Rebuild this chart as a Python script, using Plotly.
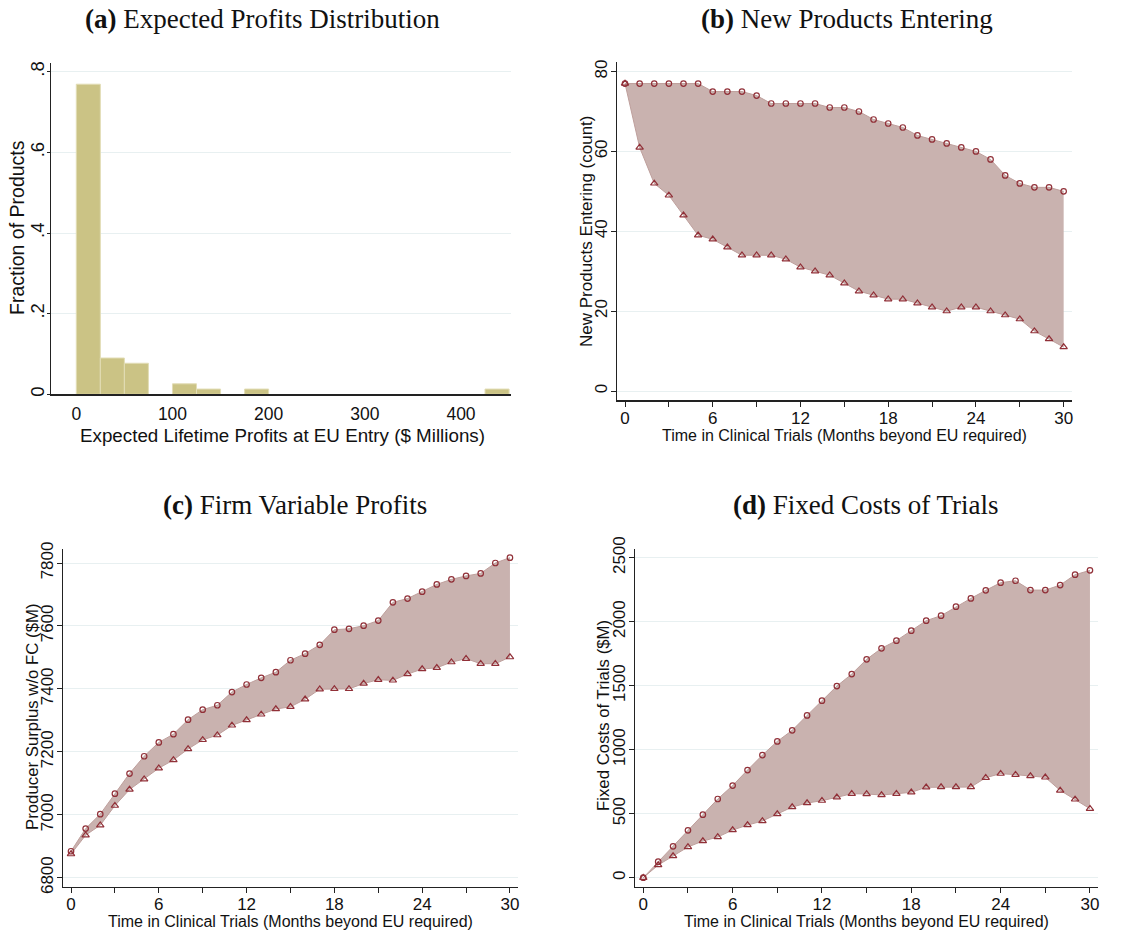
import plotly.graph_objects as go

W, H = 1140, 935

# ---------------- data ----------------
# (a) histogram of expected lifetime profits ($M), bins of width 25
hist_bin_left = [0, 25, 50, 100, 125, 175, 425]
hist_fraction = [0.769, 0.090, 0.077, 0.026, 0.013, 0.013, 0.013]
hist_bin_width = 25

months = list(range(31))

# (b) new products entering
entry_upper = [77, 77, 77, 77, 77, 77, 75, 75, 75, 74, 72, 72, 72, 72, 71, 71,
               70, 68, 67, 66, 64, 63, 62, 61, 60, 58, 54, 52, 51, 51, 50]
entry_lower = [77, 61, 52, 49, 44, 39, 38, 36, 34, 34, 34, 33, 31, 30, 29, 27,
               25, 24, 23, 23, 22, 21, 20, 21, 21, 20, 19, 18, 15, 13, 11]

# (c) producer surplus w/o fixed costs ($M)
ps_upper = [6884, 6956, 7002, 7067, 7131, 7186, 7230, 7256, 7302, 7334, 7348,
            7390, 7414, 7435, 7453, 7491, 7512, 7540, 7588, 7591, 7601, 7617,
            7675, 7687, 7709, 7732, 7748, 7759, 7767, 7800, 7817]
ps_lower = [6875, 6935, 6967, 7029, 7080, 7113, 7148, 7174, 7209, 7238, 7253,
            7284, 7301, 7319, 7336, 7343, 7367, 7399, 7400, 7400, 7417, 7429,
            7427, 7447, 7463, 7467, 7485, 7496, 7480, 7480, 7501]

# (d) fixed costs of trials ($M)
fc_upper = [0, 125, 245, 370, 492, 615, 720, 841, 958, 1065, 1151, 1268, 1383,
            1497, 1591, 1706, 1792, 1852, 1930, 2008, 2047, 2117, 2182, 2245,
            2305, 2320, 2247, 2247, 2286, 2367, 2401]
fc_lower = [0, 99, 169, 240, 286, 318, 372, 411, 443, 497, 552, 583, 602, 628,
            656, 654, 646, 656, 667, 706, 708, 708, 708, 781, 813, 805, 794, 784,
            682, 612, 539]

titles = [("(a)", "Expected Profits Distribution"),
          ("(b)", "New Products Entering"),
          ("(c)", "Firm Variable Profits"),
          ("(d)", "Fixed Costs of Trials")]

# ---------------- style ----------------
SANS = "Liberation Sans, Arial, sans-serif"
SERIF = "Liberation Serif, Times New Roman, serif"
FILL = "rgba(201,178,175,1)"
EDGE = "#BE9F9C"
MARK = "#913038"
BARC = "#CBC385"
GRID = "#E8F0F1"
AXC = "#222222"


def px_dom_x(a, b):
    return [a / W, b / W]


def px_dom_y(bottom, top):
    return [1 - bottom / H, 1 - top / H]


fig = go.Figure()

# (a) histogram
fig.add_trace(go.Bar(
    x=[l + hist_bin_width / 2 for l in hist_bin_left], y=hist_fraction,
    width=[hist_bin_width] * len(hist_bin_left),
    marker=dict(color=BARC, line=dict(color="#E2DDB6", width=1)),
    xaxis="x", yaxis="y", showlegend=False, hoverinfo="skip"))


def band(lo, hi, xa, ya):
    fig.add_trace(go.Scatter(x=months, y=lo, mode="lines",
                             line=dict(color=EDGE, width=1),
                             xaxis=xa, yaxis=ya, showlegend=False, hoverinfo="skip"))
    fig.add_trace(go.Scatter(x=months, y=hi, mode="lines", fill="tonexty",
                             fillcolor=FILL, line=dict(color=EDGE, width=1),
                             xaxis=xa, yaxis=ya, showlegend=False, hoverinfo="skip"))
    fig.add_trace(go.Scatter(x=months, y=hi, mode="markers",
                             marker=dict(symbol="circle-open", size=5.5,
                                         color=MARK, line=dict(width=1.2, color=MARK)),
                             xaxis=xa, yaxis=ya, showlegend=False))
    fig.add_trace(go.Scatter(x=months, y=lo, mode="markers",
                             marker=dict(symbol="triangle-up-open", size=6.5,
                                         color=MARK, line=dict(width=1.2, color=MARK)),
                             xaxis=xa, yaxis=ya, showlegend=False))


band(entry_lower, entry_upper, "x2", "y2")
band(ps_lower, ps_upper, "x3", "y3")
band(fc_lower, fc_upper, "x4", "y4")

tickfont = dict(family=SANS, size=17, color="#111")
tickfont_a = dict(family=SANS, size=17.5, color="#111")
common_x = dict(showline=True, linecolor=AXC, linewidth=1.3, ticks="outside",
                ticklen=5, tickcolor=AXC, showgrid=False, zeroline=False,
                tickfont=tickfont, fixedrange=True, automargin=False,
                ticklabelstandoff=-3)
common_y = dict(showline=True, linecolor=AXC, linewidth=1.3, ticks="outside",
                ticklen=5, tickcolor=AXC, showgrid=True, gridcolor=GRID,
                gridwidth=1, zeroline=False, tickfont=tickfont, tickangle=-90,
                fixedrange=True, automargin=False, ticklabelstandoff=-3)

month_minor = dict(dtick=3, ticks="outside", ticklen=5, tickcolor=AXC, showgrid=False)

fig.update_layout(
    width=W, height=H,
    margin=dict(l=0, r=0, t=0, b=0, pad=0, autoexpand=False),
    paper_bgcolor="white", plot_bgcolor="white", bargap=0,
    xaxis=dict(common_x, domain=px_dom_x(51, 511), range=[-26.3, 452],
               tickvals=[0, 100, 200, 300, 400], tickcolor="rgba(0,0,0,0)",
               tickfont=tickfont_a, ticklabelstandoff=-2, anchor="y"),
    yaxis=dict(common_y, domain=px_dom_y(394.3, 62.7), range=[0, 0.8223],
               tickvals=[0, 0.2, 0.4, 0.6, 0.8], ticktext=["0", ".2", ".4", ".6", ".8"],
               tickfont=dict(family=SANS, size=18.5, color="#111"),
               ticklen=3, ticklabelstandoff=-5, anchor="x"),
    xaxis2=dict(common_x, domain=px_dom_x(617.3, 1071.7), range=[-0.527, 30.55],
                tickvals=[0, 6, 12, 18, 24, 30], minor=month_minor, anchor="y2"),
    yaxis2=dict(common_y, domain=px_dom_y(400.3, 62), range=[-2.33, 82.4],
                tickvals=[0, 20, 40, 60, 80], anchor="x2"),
    xaxis3=dict(common_x, domain=px_dom_x(63.3, 518), range=[-0.526, 30.55],
                tickvals=[0, 6, 12, 18, 24, 30], minor=month_minor, anchor="y3"),
    yaxis3=dict(common_y, domain=px_dom_y(886.7, 549), range=[6771.4, 7844.5],
                tickvals=[6800, 7000, 7200, 7400, 7600, 7800], anchor="x3"),
    xaxis4=dict(common_x, domain=px_dom_x(635, 1098.3), range=[-0.557, 30.56],
                tickvals=[0, 6, 12, 18, 24, 30], minor=month_minor, anchor="y4"),
    yaxis4=dict(common_y, domain=px_dom_y(886.7, 549.3), range=[-70.3, 2565.6],
                tickvals=[0, 500, 1000, 1500, 2000, 2500], anchor="x4"),
)

# axis titles as annotations (pixel placement)
ann = []


def add_text(x, y, text, size, angle=0, family=SANS):
    ann.append(dict(x=x / W, y=1 - y / H, xref="paper", yref="paper",
                    text=text, showarrow=False, textangle=angle, xanchor="center",
                    yanchor="middle", font=dict(family=family, size=size, color="#111")))


xt = "Time in Clinical Trials (Months beyond EU required)"
add_text(282.5, 435.5, "Expected Lifetime Profits at EU Entry ($ Millions)", 18.8)
add_text(17, 228, "Fraction of Products", 19.5, -90)
add_text(844, 435, xt, 16)
add_text(586, 231, "New Products Entering (count)", 17, -90)
add_text(290, 921, xt, 16)
add_text(32, 717, "Producer Surplus w/o FC ($M)", 16.8, -90)
add_text(866.7, 921, xt, 16)
add_text(603, 716, "Fixed Costs of Trials ($M)", 16.8, -90)

title_pos = [(262, 19), (847, 19), (295, 505), (866, 505)]
for (lab, txt), (tx, ty) in zip(titles, title_pos):
    add_text(tx, ty, f"<b>{lab}</b> {txt}", 27, family=SERIF)

fig.update_layout(annotations=ann)

fig.write_html(
    "out.html",
    config={"displayModeBar": False, "staticPlot": True},
    post_script="document.body.style.margin='0px';document.body.style.overflow='hidden';",
)
